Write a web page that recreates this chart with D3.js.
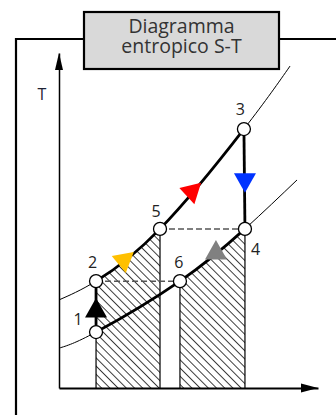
<!DOCTYPE html>
<html>
<head>
<meta charset="utf-8">
<script src="https://cdn.jsdelivr.net/npm/d3@7"></script>
<style>
  body { margin: 0; background: #fff; }
  svg { display: block; }
</style>
</head>
<body>
<div id="chart"></div>
<script>
// S-T diagram: states, isobars, process arrows
const stateLabels = ["1", "2", "3", "4", "5", "6"]
const stateS = [1.43, 1.43, 7.14, 7.18, 3.90, 4.67]
const stateT = [1.67, 3.19, 7.73, 4.75, 4.75, 3.19]

// upper isobar (2-5-3) and lower isobar (1-6-4)
const highIsobarS = [0, 1.43, 3.90, 7.14, 8.92]
const highIsobarT = [2.63, 3.19, 4.75, 7.73, 9.61]
const lowIsobarS = [0, 1.43, 4.67, 7.18, 9.19]
const lowIsobarT = [1.19, 1.67, 3.19, 4.75, 6.21]

// process arrows
const arrowS = [1.43, 2.50, 5.12, 7.18, 6.06]
const arrowT = [2.30, 3.81, 5.86, 6.22, 4.03]
const arrowAngle = [-90, -39.5, -43, 90, -90]
const arrowColor = ["#000000", "#FFC000", "#FF0000", "#0033FF", "#808080"]

const titleLines = ["Diagramma", "entropico S-T"]

const width = 336, height = 415

const svg = d3.select("#chart").append("svg")
    .attr("width", width)
    .attr("height", height)

const x = d3.scaleLinear().domain([0, 10]).range([59, 318])
const y = d3.scaleLinear().domain([0, 10]).range([388, 53])

const P = {}
stateLabels.forEach((l, i) => P[l] = {s: stateS[i], t: stateT[i]})

const high = highIsobarS.map((s, i) => ({s: s, t: highIsobarT[i]}))
const low = lowIsobarS.map((s, i) => ({s: s, t: lowIsobarT[i]}))

const line = d3.line().x(d => x(d.s)).y(d => y(d.t)).curve(d3.curveNatural)
const area = d3.area().x(d => x(d.s)).y0(y(0)).y1(d => y(d.t)).curve(d3.curveNatural)

const defs = svg.append("defs")
defs.append("pattern")
    .attr("id", "hatch")
    .attr("patternUnits", "userSpaceOnUse")
    .attr("width", 5.8)
    .attr("height", 5.8)
    .attr("patternTransform", "rotate(-45)")
  .append("line")
    .attr("x1", 0).attr("y1", 0)
    .attr("x2", 0).attr("y2", 5.8)
    .attr("stroke", "#000")
    .attr("stroke-width", 1.5)

function addClip(id, s0, s1) {
    defs.append("clipPath").attr("id", id)
      .append("rect")
        .attr("x", x(s0))
        .attr("y", 0)
        .attr("width", x(s1) - x(s0))
        .attr("height", height)
}
addClip("clipLeft", P["2"].s, P["5"].s)
addClip("clipRight", P["6"].s, P["4"].s)
addClip("clipHigh", P["2"].s, P["3"].s)
addClip("clipLow", P["1"].s, P["4"].s)

// outer frame
svg.append("path")
    .attr("d", `M16,${height} L16,39 L336,39`)
    .attr("fill", "none")
    .attr("stroke", "#000")
    .attr("stroke-width", 2.2)

// hatched areas
svg.append("path")
    .attr("d", area(high))
    .attr("clip-path", "url(#clipLeft)")
    .attr("fill", "url(#hatch)")
svg.append("path")
    .attr("d", area(low))
    .attr("clip-path", "url(#clipRight)")
    .attr("fill", "url(#hatch)")

// vertical boundaries down to the axis
;["2", "5", "6", "4"].forEach(k => {
    svg.append("line")
        .attr("x1", x(P[k].s)).attr("x2", x(P[k].s))
        .attr("y1", y(P[k].t)).attr("y2", y(0))
        .attr("stroke", "#000")
        .attr("stroke-width", 1.2)
})

// axes
svg.append("g")
    .attr("transform", `translate(0,${y(0)})`)
    .call(d3.axisBottom(x).ticks(0).tickSizeOuter(0))
    .select(".domain").attr("stroke-width", 2)
svg.append("g")
    .attr("transform", `translate(${x(0)},0)`)
    .call(d3.axisLeft(y).ticks(0).tickSizeOuter(0))
    .select(".domain").attr("stroke-width", 1.5)

svg.append("path")
    .attr("d", `M${x(10)},${y(0)} l-17,-4.5 l0,9 z`)
svg.append("path")
    .attr("d", `M${x(0)},${y(10)} l-4,17 l8,0 z`)

svg.append("text")
    .attr("x", 42).attr("y", 100)
    .attr("text-anchor", "middle")
    .style("font-family", "Open Sans, sans-serif")
    .style("font-size", "16px")
    .attr("fill", "#1e2233")
    .text("T")

// isobars (thin)
svg.append("path").attr("d", line(high))
    .attr("fill", "none").attr("stroke", "#000").attr("stroke-width", 1)
svg.append("path").attr("d", line(low))
    .attr("fill", "none").attr("stroke", "#000").attr("stroke-width", 1)

// cycle (thick)
svg.append("path").attr("d", line(high))
    .attr("clip-path", "url(#clipHigh)")
    .attr("fill", "none").attr("stroke", "#000").attr("stroke-width", 2.8)
svg.append("path").attr("d", line(low))
    .attr("clip-path", "url(#clipLow)")
    .attr("fill", "none").attr("stroke", "#000").attr("stroke-width", 2.8)
;[["1", "2"], ["3", "4"]].forEach(([a, b]) => {
    svg.append("line")
        .attr("x1", x(P[a].s)).attr("y1", y(P[a].t))
        .attr("x2", x(P[b].s)).attr("y2", y(P[b].t))
        .attr("stroke", "#000")
        .attr("stroke-width", 2.8)
})

// dashed isotherms
;[["5", "4"], ["2", "6"]].forEach(([a, b]) => {
    svg.append("line")
        .attr("x1", x(P[a].s)).attr("y1", y(P[a].t))
        .attr("x2", x(P[b].s)).attr("y2", y(P[b].t))
        .attr("stroke", "#555")
        .attr("stroke-width", 1.5)
        .attr("stroke-dasharray", "6,3")
})

// arrows
svg.selectAll(".arrow")
    .data(arrowS)
    .enter()
    .append("path")
        .attr("class", "arrow")
        .attr("d", "M13,0 L-6.5,-11 L-6.5,11 Z")
        .attr("transform", (d, i) => `translate(${x(d)},${y(arrowT[i])}) rotate(${arrowAngle[i]})`)
        .attr("fill", (d, i) => arrowColor[i])

// states
const labelDx = [-18, -3.5, -3.5, 10.5, -4, -1]
const labelDy = [-7, -13, -14, 26, -12, -13]
svg.selectAll(".state")
    .data(stateLabels)
    .enter()
    .append("circle")
        .attr("cx", (d, i) => x(stateS[i]))
        .attr("cy", (d, i) => y(stateT[i]))
        .attr("r", 6.5)
        .attr("fill", "#fff")
        .attr("stroke", "#000")
        .attr("stroke-width", 1.3)
svg.selectAll(".label")
    .data(stateLabels)
    .enter()
    .append("text")
        .attr("x", (d, i) => x(stateS[i]) + labelDx[i])
        .attr("y", (d, i) => y(stateT[i]) + labelDy[i])
        .attr("text-anchor", "middle")
        .style("font-family", "Open Sans, sans-serif")
        .style("font-size", "16px")
        .attr("fill", "#222")
        .text(d => d)

// title box
svg.append("rect")
    .attr("x", 84).attr("y", 12)
    .attr("width", 195).attr("height", 57)
    .attr("fill", "#d9d9d9")
    .attr("stroke", "#000")
    .attr("stroke-width", 2.2)
svg.selectAll(".title")
    .data(titleLines)
    .enter()
    .append("text")
        .attr("x", 181.5)
        .attr("y", (d, i) => 32.5 + i * 20)
        .attr("text-anchor", "middle")
        .style("font-family", "Open Sans, sans-serif")
        .style("font-size", "19.5px")
        .attr("fill", "#333")
        .text(d => d)
</script>
</body>
</html>
